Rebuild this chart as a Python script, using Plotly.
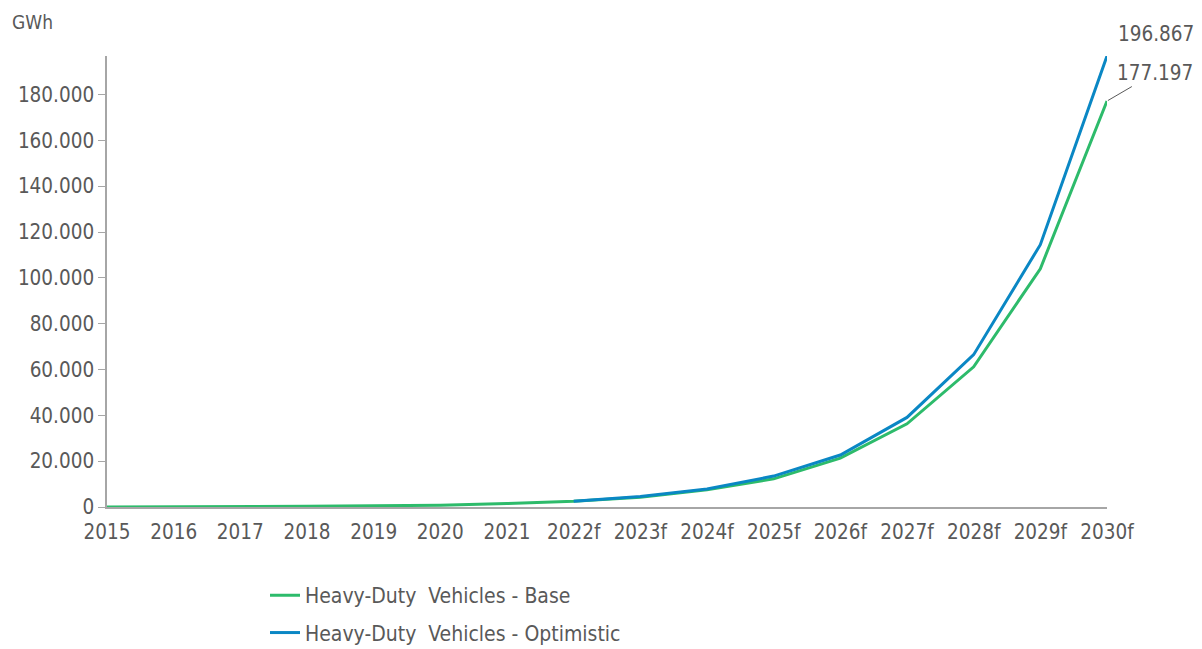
import plotly.graph_objects as go

years = ["2015", "2016", "2017", "2018", "2019", "2020", "2021", "2022f",
         "2023f", "2024f", "2025f", "2026f", "2027f", "2028f", "2029f", "2030f"]

# Battery demand, GWh
base = [0, 30, 100, 300, 500, 800, 1500, 2500,
        4300, 7500, 12300, 21300, 36300, 61200, 104000, 177197]
optimistic = [None, None, None, None, None, None, None, 2500,
              4600, 7900, 13500, 22700, 39100, 66500, 114500, 196867]

base_name = "Heavy-Duty  Vehicles - Base"
opt_name = "Heavy-Duty  Vehicles - Optimistic"

GREEN = "#2dbb6b"
BLUE = "#0a87c4"
GREY_TEXT = "#595959"
AXIS = "#a6a6a6"
FONT = "DejaVu Sans Condensed, sans-serif"
FS = 20.5

x = list(range(len(years)))

fig = go.Figure()
fig.add_trace(go.Scatter(x=x, y=base, name=base_name, mode="lines",
                         legendgroup="base",
                         line=dict(color=GREEN, width=3)))
fig.add_trace(go.Scatter(x=x, y=optimistic, name=opt_name, mode="lines",
                         legendgroup="opt",
                         line=dict(color=BLUE, width=3)))

# End-of-series value labels
def fmt(v):
    return f"{v:,.0f}".replace(",", ".")

fig.add_annotation(x=x[-1], y=optimistic[-1], text=fmt(optimistic[-1]),
                   showarrow=False, xanchor="left", xshift=9, yshift=22,
                   font=dict(family=FONT, size=FS, color=GREY_TEXT))
fig.add_annotation(x=x[-1], y=base[-1], text=fmt(base[-1]),
                   showarrow=True, arrowhead=0, arrowwidth=1,
                   arrowcolor="#595959", ax=48, ay=-28, standoff=1,
                   font=dict(family=FONT, size=FS, color=GREY_TEXT))

fig.add_annotation(xref="paper", yref="paper", x=-0.097, y=1.0,
                   yshift=34, xanchor="left", yanchor="middle",
                   text="GWh", showarrow=False,
                   font=dict(family=FONT, size=19, color=GREY_TEXT))

fig.update_layout(
    width=1202, height=649,
    margin=dict(l=107, r=95, t=56, b=142, autoexpand=False),
    paper_bgcolor="white", plot_bgcolor="white",
    separators=",.",
    font=dict(family=FONT, size=FS, color=GREY_TEXT),
    showlegend=True,
    legend=dict(x=0.158, y=-0.151, xanchor="left", yanchor="top",
                orientation="v", tracegroupgap=7,
                font=dict(family=FONT, size=21, color=GREY_TEXT),
                itemwidth=30),
)

fig.update_xaxes(
    range=[0, len(years) - 1],
    tickmode="array", tickvals=x, ticktext=years,
    showgrid=False, zeroline=False, automargin=False,
    showline=True, linecolor=AXIS, linewidth=1.5,
    ticks="outside", ticklen=6, tickcolor="rgba(0,0,0,0)",
    tickfont=dict(family=FONT, size=FS, color=GREY_TEXT),
)
fig.update_yaxes(
    range=[0, 196867],
    tickmode="array", tickvals=list(range(0, 200000, 20000)),
    tickformat=",d",
    showgrid=False, zeroline=False, automargin=False,
    showline=True, linecolor=AXIS, linewidth=1.5,
    ticks="outside", ticklen=7, tickcolor=AXIS,
    tickfont=dict(family=FONT, size=FS, color=GREY_TEXT),
)

fig.write_html("out.html")
